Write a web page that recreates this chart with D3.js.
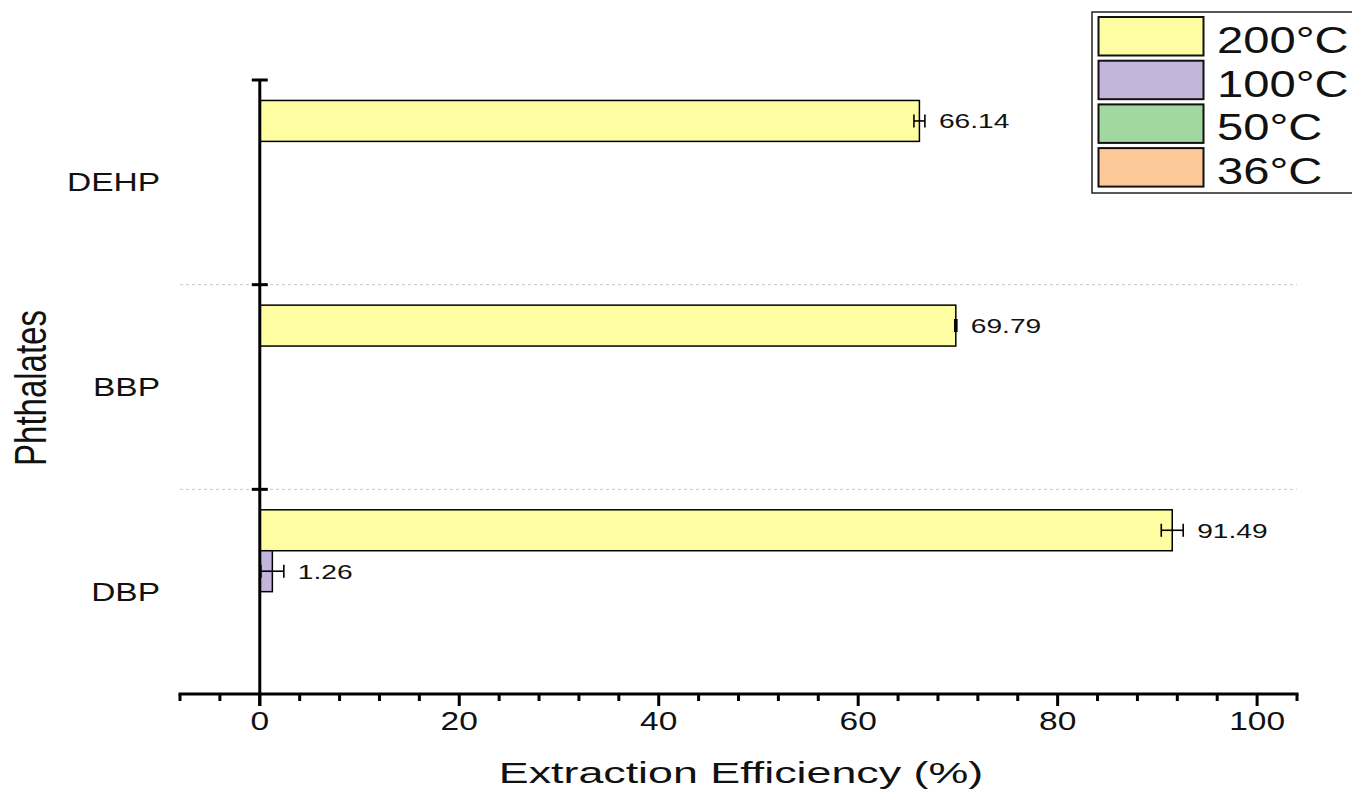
<!DOCTYPE html>
<html>
<head>
<meta charset="utf-8">
<script src="https://cdn.jsdelivr.net/npm/d3@7"></script>
<style>
  html, body { margin: 0; padding: 0; background: #fff; }
  svg { display: block; font-family: "Liberation Sans", Arial, sans-serif; }
</style>
</head>
<body>
<svg id="chart" width="1352" height="795"></svg>
<script>
// Phthalate extraction efficiency by temperature
const categories = ["DEHP", "BBP", "DBP"];
const series = ["200°C", "100°C", "50°C", "36°C"];
const colors = ["#FFFDA2", "#C4B5DC", "#A0D8A0", "#FCC897"];
const values = {
  "200°C": [66.14, 69.79, 91.49],
  "100°C": [0, 0, 1.26],
  "50°C":  [0, 0, 0],
  "36°C":  [0, 0, 0]
};
const errors = {
  "200°C": [0.55, 0.1, 1.1],
  "100°C": [0, 0, 1.15],
  "50°C":  [0, 0, 0],
  "36°C":  [0, 0, 0]
};
const xTicks = [0, 20, 40, 60, 80, 100];

// all type is set wide
const SX = 1.34;

const svg = d3.select("#chart");
const x = d3.scaleLinear().domain([-8, 104]).range([180, 1297]);
const y = d3.scaleBand().domain(categories).range([80, 694]);
const inner = d3.scaleBand().domain(series).range([0, y.bandwidth()]).paddingOuter(0.5);

function wideText(g, px, py, str, size, anchor, sx) {
  return g.append("text")
    .attr("transform", `translate(${px},${py}) scale(${sx || SX},1)`)
    .attr("text-anchor", anchor || "start")
    .attr("font-size", size)
    .attr("fill", "#111")
    .text(str);
}

// dotted separators between categories
svg.append("g").selectAll("line")
  .data(categories.slice(1))
  .join("line")
  .attr("x1", x(-8)).attr("x2", x(104))
  .attr("y1", d => y(d)).attr("y2", d => y(d))
  .attr("stroke", "#c8c8c8").attr("stroke-width", 1)
  .attr("stroke-dasharray", "3,3");

// bars
const rows = [];
categories.forEach((c, i) => series.forEach((s, j) => {
  rows.push({ cat: c, ser: s, val: values[s][i], err: errors[s][i], color: colors[j] });
}));
const shown = rows.filter(r => r.val > 0);

svg.append("g").selectAll("rect")
  .data(shown)
  .join("rect")
  .attr("x", x(0))
  .attr("y", d => y(d.cat) + inner(d.ser))
  .attr("width", d => x(d.val) - x(0))
  .attr("height", inner.bandwidth())
  .attr("fill", d => d.color)
  .attr("stroke", "#000").attr("stroke-width", 1.5);

// error bars
const eb = svg.append("g").attr("stroke", "#000").attr("stroke-width", 1.6);
shown.forEach(d => {
  const cy = y(d.cat) + inner(d.ser) + inner.bandwidth() / 2;
  const x1 = x(d.val - d.err), x2 = x(d.val + d.err);
  eb.append("line").attr("x1", x1).attr("x2", x2).attr("y1", cy).attr("y2", cy);
  eb.append("line").attr("x1", x1).attr("x2", x1).attr("y1", cy - 6.5).attr("y2", cy + 6.5);
  eb.append("line").attr("x1", x2).attr("x2", x2).attr("y1", cy - 6.5).attr("y2", cy + 6.5);
});

// value labels
const vl = svg.append("g");
shown.forEach(d => {
  const cy = y(d.cat) + inner(d.ser) + inner.bandwidth() / 2;
  wideText(vl, x(d.val + d.err) + 14, cy + 7.5, d.val.toFixed(2), 21, "start");
});

// x axis
const xAxis = svg.append("g").attr("transform", "translate(0,694)");
xAxis.append("line").attr("x1", x(-8) - 1.5).attr("x2", x(104) + 1.5)
  .attr("stroke", "#000").attr("stroke-width", 3);
const minor = d3.range(-8, 105, 4).filter(v => !xTicks.includes(v));
xAxis.selectAll(".minor").data(minor).join("line")
  .attr("x1", d => x(d)).attr("x2", d => x(d))
  .attr("y1", 0).attr("y2", 7)
  .attr("stroke", "#000").attr("stroke-width", 3);
xAxis.selectAll(".major").data(xTicks).join("line")
  .attr("x1", d => x(d)).attr("x2", d => x(d))
  .attr("y1", 0).attr("y2", 12)
  .attr("stroke", "#000").attr("stroke-width", 3);
xTicks.forEach(t => wideText(xAxis, x(t), 36, t, 25, "middle", 1.34));

// y axis
const yAxis = svg.append("g").attr("stroke", "#000").attr("stroke-width", 3);
yAxis.append("line").attr("x1", x(0)).attr("x2", x(0)).attr("y1", 80).attr("y2", 706);
yAxis.selectAll(".yt").data(categories).join("line")
  .attr("x1", x(0) - 8).attr("x2", x(0) + 8)
  .attr("y1", d => y(d)).attr("y2", d => y(d));

const yl = svg.append("g");
categories.forEach(c => wideText(yl, 160, y(c) + y.bandwidth() / 2 + 9, c, 25, "end"));

// axis titles
svg.append("text")
  .attr("transform", "translate(46,388) scale(1.37,1) rotate(-90)")
  .attr("text-anchor", "middle")
  .attr("font-size", 33).attr("fill", "#111")
  .text("Phthalates");
wideText(svg, 741, 783, "Extraction Efficiency (%)", 29, "middle", 1.545);

// legend
const lg = svg.append("g");
lg.append("rect").attr("x", 1092).attr("y", 12).attr("width", 262).attr("height", 181)
  .attr("fill", "#fff").attr("stroke", "#222").attr("stroke-width", 1.5);
series.forEach((s, i) => {
  const top = 17 + i * 43.7;
  lg.append("rect").attr("x", 1098.5).attr("y", top).attr("width", 105).attr("height", 38.5)
    .attr("fill", colors[i]).attr("stroke", "#111").attr("stroke-width", 2);
  wideText(lg, 1217, top + 36, s, 36, "start", 1.31);
});
</script>
</body>
</html>
